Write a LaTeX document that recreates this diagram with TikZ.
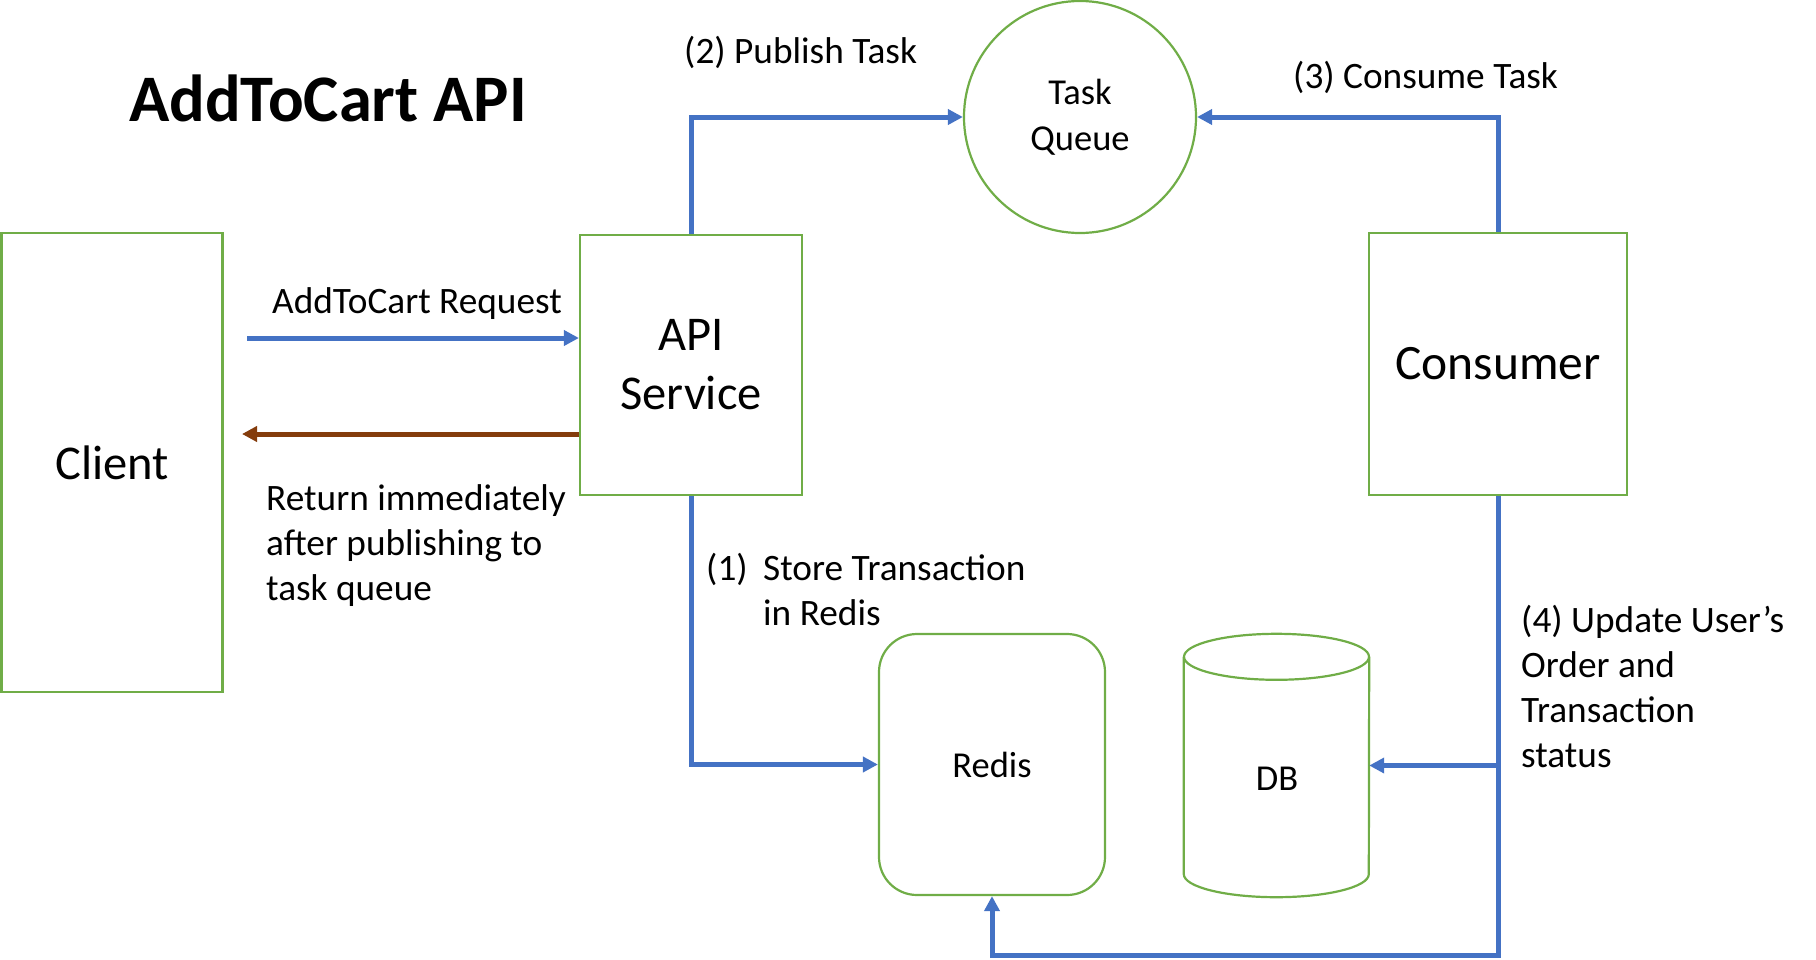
\documentclass[tikz,border=0pt]{standalone}
\usepackage{fontspec}
\setmainfont{Carlito}
\usetikzlibrary{arrows.meta}
\definecolor{ablue}{HTML}{4472C4}
\definecolor{agreen}{HTML}{70AD47}
\definecolor{abrown}{HTML}{843C0C}
\begin{document}
\begin{tikzpicture}[x=1pt,y=-1pt,
  box/.style={draw=agreen,line width=2.2pt,inner sep=0pt,align=center},
  conn/.style={draw=ablue,line width=5pt,-{Triangle[length=15pt,width=15pt]}},
  back/.style={draw=abrown,line width=5pt,-{Triangle[length=15pt,width=15pt]}},
  lbl/.style={inner sep=0pt,anchor=base west,font=\fontsize{37.3}{45}\selectfont},
  big/.style={font=\fontsize{48.5}{59}\selectfont},
  mid/.style={font=\fontsize{36.5}{46}\selectfont},
]
\useasboundingbox (0,0) rectangle (1816,959);

% title
\node[inner sep=0pt,anchor=base west,font=\fontsize{66.5}{70}\selectfont\bfseries] (title) at (129,121) {AddToCart API};

% boxes
\node[box,big,minimum width=221pt,minimum height=459pt] (client) at (112,462.5) {Client};
\node[box,big,minimum width=222pt,minimum height=260pt] (api) at (691,365) {API\\Service};
\node[box,mid,circle,minimum size=232pt] (queue) at (1080,117) {Task\\Queue};
\node[box,big,font=\fontsize{49.5}{59}\selectfont,minimum width=258pt,minimum height=262pt] (consumer) at (1498,364) {Consumer};
\node[box,mid,rounded corners=38pt,minimum width=226pt,minimum height=261pt] (redis) at (992,764.5) {Redis};
\node[inner sep=0pt,minimum width=185pt,minimum height=263pt] (db) at (1276.5,765.5) {};
\node[inner sep=0pt,mid] (dbtext) at (1277,779) {DB};

% cylinder outline of DB
\draw[agreen,line width=2.2pt] (db.north) ++(0,23) ellipse [x radius=92.5pt, y radius=23pt];
\draw[agreen,line width=2.2pt] ([yshift=-23pt]db.north west) -- ([yshift=23pt]db.south west)
   arc[start angle=180,end angle=360,x radius=92.5pt,y radius=23pt] -- ([yshift=-23pt]db.north east);

% helper coordinates
\coordinate (reqstart) at (247,338);
\coordinate (retstart) at (580,434);
\coordinate (retend) at (242,434);
\coordinate (lowy) at (0,955);

% connectors
\draw[conn] (reqstart) -- (api.west |- reqstart);
\draw[back] (api.west |- retstart) -- (retend);
\draw[conn] (api.north) |- (queue.west);
\draw[conn] (consumer.north) |- (queue.east);
\draw[conn] (api.south) |- (redis.west);
\draw[conn] (consumer.south) -- (consumer.south |- lowy) -| (redis.south);
\draw[conn] (consumer.south |- db.east) -- (db.east);

% labels
\node[lbl] (l2) at (684,63) {(2) Publish Task};
\node[lbl] (l3) at (1293,88) {(3) Consume Task};
\node[lbl] (lreq) at (272,313) {AddToCart Request};
\node[lbl] (lret1) at (266,510) {Return immediately};
\node[lbl] (lret2) at (266,555) {after publishing to};
\node[lbl] (lret3) at (266,600) {task queue};
\node[lbl] (l1n) at (706,580) {(1)};
\node[lbl] (l1a) at (763,580) {Store Transaction};
\node[lbl] (l1b) at (763,625) {in Redis};
\node[lbl] (l4a) at (1521,632) {(4) Update User’s};
\node[lbl] (l4b) at (1521,677) {Order and};
\node[lbl] (l4c) at (1521,722) {Transaction};
\node[lbl] (l4d) at (1521,767) {status};
\end{tikzpicture}
\end{document}
